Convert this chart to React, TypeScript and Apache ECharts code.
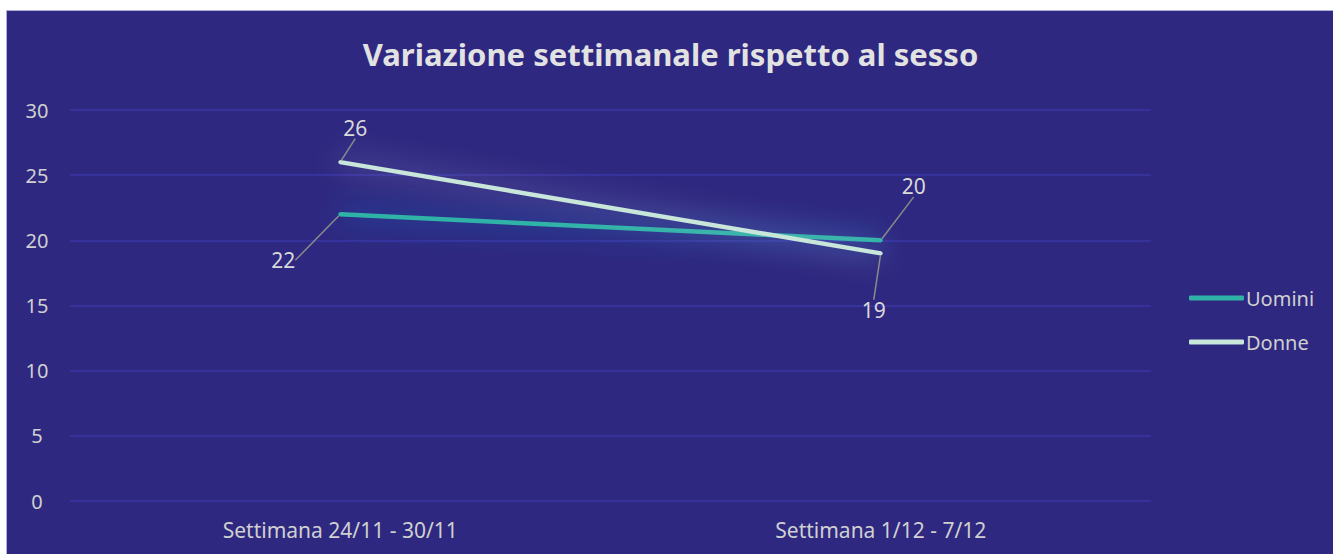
import React, { useEffect, useRef } from "react";
import * as echarts from "echarts";

const categories = ["Settimana 24/11 - 30/11", "Settimana 1/12 - 7/12"];
const uomini = [22, 20];
const donne = [26, 19];
const seriesNames = ["Uomini", "Donne"];
const titleText = "Variazione settimanale rispetto al sesso";

// label offsets [seriesIndex][dataIndex] -> [dx, dy]
const labelOffsets = [
  [[-57, 46], [33, -54]],
  [[15, -34], [-7, 57]],
];

export default function App() {
  const ref = useRef<HTMLDivElement>(null);
  useEffect(() => {
    if (!ref.current) return;
    const chart = echarts.init(ref.current, null, { renderer: "svg" });
    const font = "'Noto Sans', 'Open Sans', sans-serif";
    const labelStyle = {
      show: true,
      position: "inside",
      color: "#d9d9d9",
      fontSize: 21,
      fontFamily: font,
    };
    chart.setOption({
      animation: false,
      backgroundColor: "#2E2880",
      title: {
        text: titleText,
        left: "center",
        top: 22,
        textStyle: { color: "#e2e2e2", fontSize: 31, fontWeight: "bold", fontFamily: font },
      },
      legend: {
        orient: "vertical",
        left: 1177,
        top: 272,
        itemWidth: 55,
        itemHeight: 5,
        itemGap: 24,
        icon: "roundRect",
        textStyle: { color: "#d0d0d0", fontSize: 20, fontFamily: font, padding: [0, 0, 0, -3] },
        data: seriesNames,
      },
      grid: { left: 63, right: 183, top: 99, bottom: 54, containLabel: false },
      xAxis: {
        type: "category",
        data: categories,
        boundaryGap: true,
        axisLine: { show: false },
        axisTick: { show: false },
        axisLabel: { color: "#d0d0d0", fontSize: 21, fontFamily: font, margin: 18 },
      },
      yAxis: {
        type: "value",
        min: 0,
        max: 30,
        interval: 5,
        axisLine: { show: false },
        axisTick: { show: false },
        splitLine: { lineStyle: { color: "#3B35A6", width: 1.5 } },
        axisLabel: { color: "#d0d0d0", fontSize: 20, fontFamily: font, margin: 33, align: "center" },
      },
      series: [
        {
          name: seriesNames[0],
          type: "line",
          data: uomini,
          color: "#2EB3A6",
          symbol: "circle",
          symbolSize: 4,
          lineStyle: {
            width: 4.5,
            color: "#2EB3A6",
            shadowBlur: 30,
            shadowColor: "rgba(40,150,230,0.75)",
          },
          label: labelStyle,
          labelLine: { show: true, lineStyle: { color: "#8a8a8a", width: 1.5 } },
          labelLayout: (p: any) => {
            const o = labelOffsets[0][p.dataIndex];
            return { dx: o[0], dy: o[1] };
          },
          z: 3,
        },
        {
          name: seriesNames[1],
          type: "line",
          data: donne,
          color: "#C8E6DA",
          symbol: "circle",
          symbolSize: 4,
          lineStyle: {
            width: 4.5,
            color: "#C8E6DA",
            shadowBlur: 30,
            shadowColor: "rgba(210,210,240,0.7)",
          },
          label: labelStyle,
          labelLine: { show: true, lineStyle: { color: "#8a8a8a", width: 1.5 } },
          labelLayout: (p: any) => {
            const o = labelOffsets[1][p.dataIndex];
            return { dx: o[0], dy: o[1] };
          },
          z: 4,
        },
      ],
    });
    return () => chart.dispose();
  }, []);
  return (
    <div
      style={{
        position: "absolute",
        left: 6,
        top: 10,
        borderLeft: "1px solid #AFADDB",
        borderTop: "1px solid #AFADDB",
        background: "#2E2880",
      }}
    >
      <div ref={ref} style={{ width: 1327, height: 544 }} />
    </div>
  );
}
